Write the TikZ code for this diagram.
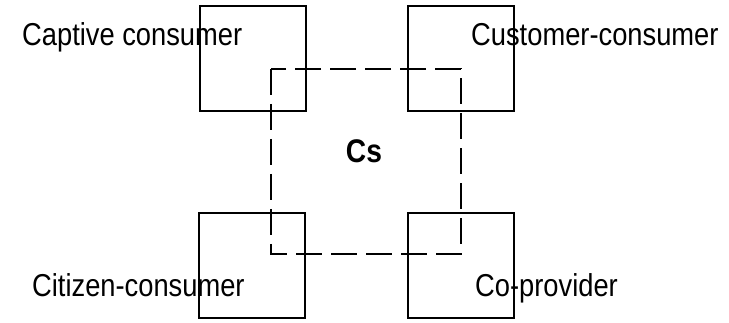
\documentclass[tikz,border=0pt]{standalone}
\usepackage{fontspec}
\setmainfont{Liberation Sans}
\usepackage{graphicx}
\newcommand{\tall}[1]{\scalebox{1}[1.16]{#1}}
\begin{document}
\begin{tikzpicture}[x=1pt, y=1pt,
    box/.style={draw, line width=2pt, minimum width=106pt, minimum height=105pt, inner sep=0pt},
    lbl/.style={font=\fontsize{27.3}{32}\selectfont, inner sep=0pt, anchor=base west}]
    \useasboundingbox (0,0) rectangle (729,323);

    % 1. Các góc của khung nét đứt
    \path (271,254) coordinate (DL)
          (461,69)  coordinate (DR);

    % 2. Nhãn
    \node[lbl] (captive) at (22,277)  {\tall{Captive consumer}};
    \node[lbl] (customer) at (471,277) {\tall{Customer-consumer}};
    \node[lbl] (citizen) at (32,26)   {\tall{Citizen-consumer}};
    \node[lbl] (coprov) at (475,26)   {\tall{Co-provider}};
    \node[lbl, anchor=base, font=\fontsize{28.2}{32}\selectfont\bfseries] (cs) at (364,160) {\tall{Cs}};

    % 3. Bốn hình vuông
    \node[box] (capbox) at (253,264.5) {};
    \node[box] (cusbox) at (461,264.5) {};
    \node[box] (citbox) at (252,57) {};
    \node[box] (cobox)  at (460.5,57) {};

    % 4. Khung nét đứt
    \draw[line width=2.6pt, dash pattern=on 26pt off 9pt] (DL) rectangle (DR);
\end{tikzpicture}
\end{document}
